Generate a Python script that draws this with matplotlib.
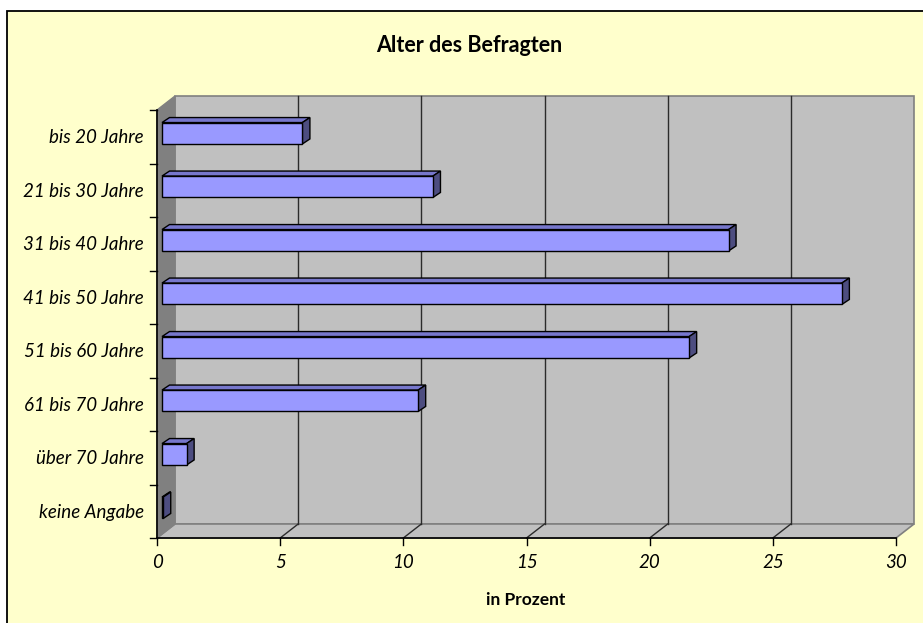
import matplotlib.pyplot as plt
from matplotlib.patches import Polygon, Rectangle
from matplotlib.transforms import IdentityTransform
from matplotlib.lines import Line2D

plt.rcParams['font.family'] = ['Lato', 'DejaVu Sans']

categories = ['bis 20 Jahre', '21 bis 30 Jahre', '31 bis 40 Jahre', '41 bis 50 Jahre',
              '51 bis 60 Jahre', '61 bis 70 Jahre', 'über 70 Jahre', 'keine Angabe']
values = [5.7, 11.0, 23.0, 27.6, 21.4, 10.4, 1.0, 0.05]
x_ticks = [0, 5, 10, 15, 20, 25, 30]

W, H = 923, 623
fig = plt.figure(figsize=(W / 100, H / 100), dpi=100)
fig.patch.set_facecolor('white')

# chart area with border (right/bottom edges run off the image)
fig.patches.append(Rectangle((7 / W, -0.02), 1.1, (H - 11) / H + 0.02,
                             transform=fig.transFigure, facecolor='#FFFFCC',
                             edgecolor='black', linewidth=1.3, zorder=0))

ax = fig.add_axes([157 / W, (H - 538) / H, (896 - 157) / W, (538 - 110) / H])
ax.set_xlim(0, 30)
ax.set_ylim(len(categories) - 0.5, -0.5)
ax.axis('off')

WALL = (18, 14)      # depth of the 3d box in pixels
BAR_OFF = (5, 3.5)   # where the bar front sits inside the depth
BAR_D = (7.5, 5)     # depth of each bar
bar_h = 0.4
ybot, ytop = len(categories) - 0.5, -0.5


def px(x, y, dx=0, dy=0):
    X, Y = ax.transData.transform((x, y))
    return (X + dx, Y + dy)


def poly(pts, fc, ec, lw=0.8, z=1):
    p = Polygon(pts, closed=True, facecolor=fc, edgecolor=ec, linewidth=lw,
                transform=IdentityTransform(), zorder=z, clip_on=False)
    fig.add_artist(p)


def line(p0, p1, color, lw=1.0, z=2):
    fig.add_artist(Line2D([p0[0], p1[0]], [p0[1], p1[1]], color=color, linewidth=lw,
                          transform=IdentityTransform(), zorder=z, clip_on=False))


dx, dy = WALL
# back wall
poly([px(0, ybot, dx, dy), px(30, ybot, dx, dy), px(30, ytop, dx, dy), px(0, ytop, dx, dy)],
     '#C0C0C0', '#808080', lw=1.2)
# floor
poly([px(0, ybot), px(30, ybot), px(30, ybot, dx, dy), px(0, ybot, dx, dy)],
     '#C0C0C0', '#808080', lw=1.2)
# left side wall
poly([px(0, ybot), px(0, ytop), px(0, ytop, dx, dy), px(0, ybot, dx, dy)],
     '#808080', '#808080', lw=1.0)

# gridlines on back wall and floor
for t in x_ticks[1:-1]:
    line(px(t, ybot, dx, dy), px(t, ytop, dx, dy), '#2b2b2b', 1.0)
    line(px(t, ybot), px(t, ybot, dx, dy), '#2b2b2b', 1.0)

# front axes
line(px(0, ybot), px(30, ybot), 'black', 1.2, 3)
line(px(0, ybot), px(0, ytop), 'black', 1.2, 3)
for t in x_ticks:
    line(px(t, ybot), px(t, ybot, 0, -7), 'black', 1.0, 3)
    fig.text(*px(t, ybot, 0, -24), str(t), transform=IdentityTransform(),
             ha='center', va='center', fontsize=13.5, style='italic')
for i in range(len(categories) + 1):
    line(px(0, i - 0.5), px(0, i - 0.5, -7, 0), 'black', 1.0, 3)
for i, c in enumerate(categories):
    fig.text(*px(0, i, -13, -1), c, transform=IdentityTransform(),
             ha='right', va='center', fontsize=13.5, style='italic')

# 3d bars
bx, by = BAR_OFF
ddx, ddy = BAR_D
for i, v in enumerate(values):
    y0, y1 = i + bar_h / 2, i - bar_h / 2   # bottom, top
    front = [px(0, y0, bx, by), px(v, y0, bx, by), px(v, y1, bx, by), px(0, y1, bx, by)]
    top = [px(0, y1, bx, by), px(v, y1, bx, by), px(v, y1, bx + ddx, by + ddy),
           px(0, y1, bx + ddx, by + ddy)]
    side = [px(v, y0, bx, by), px(v, y1, bx, by), px(v, y1, bx + ddx, by + ddy),
            px(v, y0, bx + ddx, by + ddy)]
    poly(top, '#7777CC', 'black', 1.0, 4)
    poly(side, '#4D4D80', 'black', 1.0, 4)
    poly(front, '#9999FF', 'black', 1.0, 5)

fig.text(469 / W, 1 - 46 / H, 'Alter des Befragten', ha='center', va='center',
         fontsize=15.5, fontweight='bold')
fig.text(526 / W, 1 - 600 / H, 'in Prozent', ha='center', va='center',
         fontsize=12.5, fontweight='bold')

fig.savefig('out.png', dpi=100)
